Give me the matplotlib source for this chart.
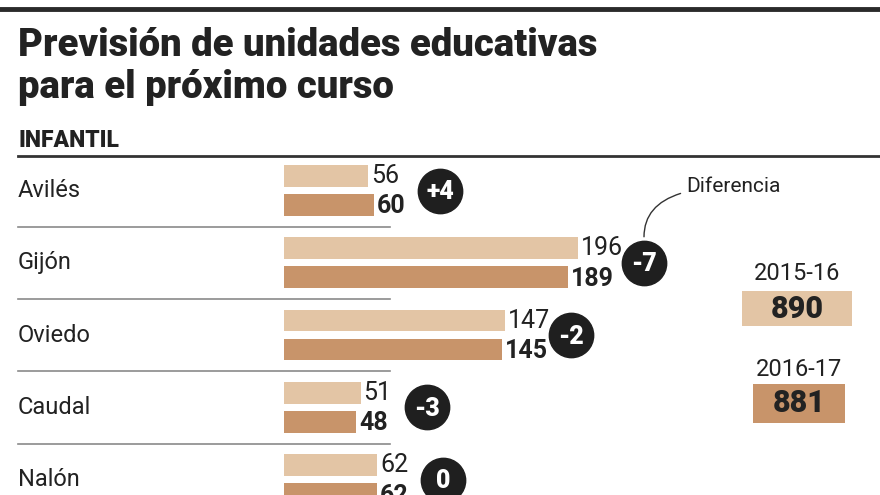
import matplotlib
matplotlib.use("Agg")
import matplotlib.pyplot as plt
from matplotlib import font_manager
from matplotlib.transforms import blended_transform_factory


def pick_font(names):
    for n in names:
        try:
            font_manager.findfont(font_manager.FontProperties(family=n), fallback_to_default=False)
            return n
        except Exception:
            pass
    return "DejaVu Sans"


NARROW = pick_font(["Liberation Sans Narrow", "DejaVu Sans Condensed", "Roboto"])

# data
municipios = ["Avilés", "Gijón", "Oviedo", "Caudal", "Nalón"]
curso_2015 = [56, 196, 147, 51, 62]
curso_2016 = [60, 189, 145, 48, 62]
total_labels = ["2015-16", "2016-17"]
totales = [890, 881]

LIGHT = "#e3c5a5"
DARK = "#c8946a"
INK = "#222222"

W, H = 880, 495
fig = plt.figure(figsize=(W / 100, H / 100), dpi=100)


def fx(x):
    return x / W


def fy(y):
    return 1 - y / H


# header
fig.add_artist(plt.Line2D([0, 1], [fy(9), fy(9)], color="#2a2a2a", lw=3.5))
fig.text(fx(18), fy(56), "Previsión de unidades educativas", family=NARROW,
         weight="heavy", size=27.5, color=INK, va="baseline")
fig.text(fx(18), fy(98), "para el próximo curso", family=NARROW,
         weight="heavy", size=27.5, color=INK, va="baseline")
fig.text(fx(18), fy(147), "INFANTIL", family=NARROW, weight="heavy",
         size=16.5, color=INK, va="baseline")
fig.add_artist(plt.Line2D([fx(18), 1], [fy(156), fy(156)], color="#333333", lw=2))

# bars
pitch = 72.3
scale = 1.5
ax = fig.add_axes([fx(284), 0, 1 - fx(284), fy(156)])
ax.set_xlim(0, (W - 284) / scale)
ax.set_ylim((H - 190.5) / pitch, (156 - 190.5) / pitch)
ax.axis("off")

rows = list(range(len(municipios)))
off = 0.2
h = 0.30
ax.barh([r - off for r in rows], curso_2015, height=h, color=LIGHT, left=0)
ax.barh([r + off for r in rows], curso_2016, height=h, color=DARK, left=0)

blend = blended_transform_factory(fig.transFigure, ax.transData)
for r, name, a, b in zip(rows, municipios, curso_2015, curso_2016):
    ax.text(fx(18), r, name, transform=blend, family=NARROW, size=17,
            color=INK, va="center", ha="left")
    ax.text(a + 2, r - off, str(a), family=NARROW, size=18, color=INK,
            va="center", ha="left")
    ax.text(b + 2, r + off + 0.02, str(b), family=NARROW, size=18,
            weight="bold", color=INK, va="center", ha="left")
    d = b - a
    lab = "0" if d == 0 else ("+%d" % d if d > 0 else "-%d" % abs(d))
    cx = max(a, b) + 44
    ax.scatter([cx], [r], s=1020, color="#1f1f1f", zorder=3, clip_on=False)
    ax.text(cx, r + 0.02, lab, family=NARROW, size=18, weight="heavy",
            color="white", ha="center", va="center", zorder=4)
    if r < len(rows) - 1:
        ax.plot([fx(18), fx(390)], [r + 0.5, r + 0.5], transform=blend,
                color="#8a8a8a", lw=1.2, clip_on=False)

# Diferencia callout pointing at the Gijón circle
gx = max(curso_2015[1], curso_2016[1]) + 44
ax.annotate("Diferencia", xy=(gx, 1 - 0.36), xycoords="data",
            xytext=(fx(686), fy(187)), textcoords="figure fraction",
            family=NARROW, size=15, color=INK, va="center", ha="left",
            arrowprops=dict(arrowstyle="-", color="#333333", lw=1,
                            connectionstyle="angle3,angleA=0,angleB=90",
                            shrinkA=2, shrinkB=0))

# totals
boxes = [(742, 291, 852, 326, 273), (753, 384, 845, 423, 369)]
for (x0, y0, x1, y1, ty), lab, val, col in zip(boxes, total_labels, totales, [LIGHT, DARK]):
    fig.add_artist(plt.Rectangle((fx(x0), fy(y1)), fx(x1) - fx(x0), fy(y0) - fy(y1),
                                 transform=fig.transFigure, color=col, lw=0))
    fig.text(fx((x0 + x1) / 2), fy(ty), lab, family=NARROW, size=17,
             color=INK, ha="center", va="center")
    fig.text(fx((x0 + x1) / 2), fy((y0 + y1) / 2), str(val), family=NARROW,
             size=22, weight="heavy", color=INK, ha="center", va="center")

fig.savefig("out.png", dpi=100)
